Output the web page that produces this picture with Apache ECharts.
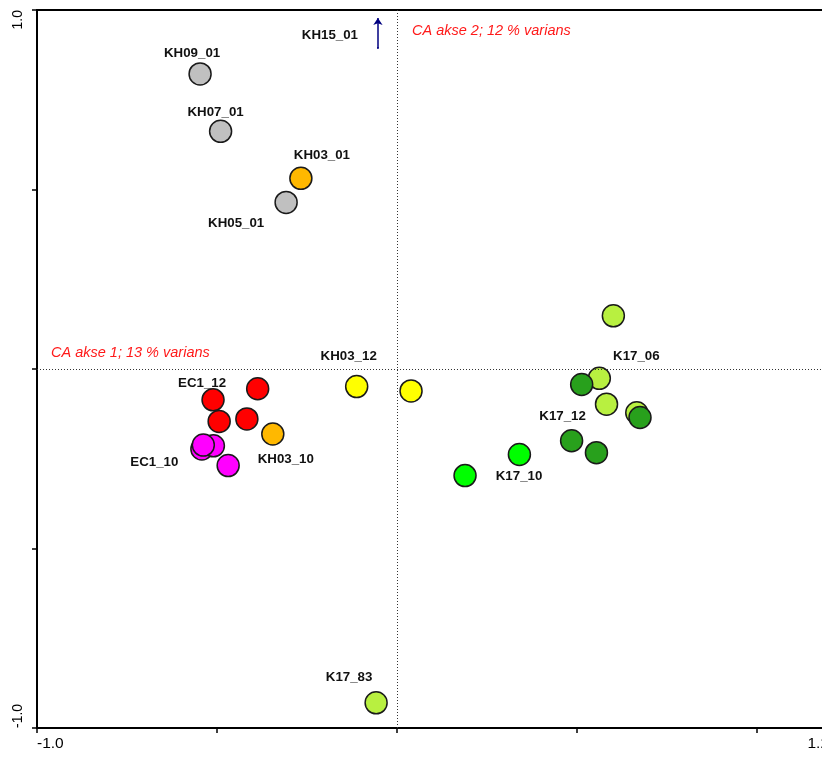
<!DOCTYPE html>
<html>
<head>
<meta charset="utf-8">
<script src="https://cdn.jsdelivr.net/npm/echarts@6/dist/echarts.min.js"></script>
<style>html,body{margin:0;padding:0;background:#fff;}#c{width:822px;height:758px;}</style>
</head>
<body>
<div id="c"></div>
<script>
// ---- data (CA scores) ----
const greyPts = [[-0.547, 0.822], [-0.490, 0.662], [-0.308, 0.464]];
const greyNames = ['KH09_01', 'KH07_01', 'KH05_01'];
const orangePts = [[-0.267, 0.531], [-0.345, -0.181]];
const orangeNames = ['KH03_01', 'KH03_10'];
const redPts = [[-0.387, -0.055], [-0.511, -0.086], [-0.494, -0.146], [-0.417, -0.139]];
const redNames = ['', 'EC1_12', '', ''];
const magentaPts = [[-0.542, -0.223], [-0.510, -0.214], [-0.538, -0.212], [-0.469, -0.269]];
const magentaNames = ['', '', 'EC1_10', ''];
const yellowPts = [[-0.112, -0.049], [0.039, -0.061]];
const yellowNames = ['KH03_12', ''];
const lightGreenPts = [[0.601, 0.148], [0.562, -0.026], [0.582, -0.098], [0.666, -0.122], [-0.058, -0.930]];
const lightGreenNames = ['', 'K17_06', '', '', 'K17_83'];
const greenPts = [[0.340, -0.238], [0.189, -0.297]];
const greenNames = ['', 'K17_10'];
const darkGreenPts = [[0.513, -0.043], [0.675, -0.135], [0.485, -0.200], [0.554, -0.233]];
const darkGreenNames = ['', '', 'K17_12', ''];
const arrowFrom = [-0.053, 0.894];
const arrowTo = [-0.053, 0.978];
const arrowName = 'KH15_01';
const xTickLabels = [-1.0, 1.2];
const yTickLabels = [-1.0, 1.0];
const axis1Text = 'CA akse 1; 13 % varians';
const axis2Text = 'CA akse 2; 12 % varians';

// ---- styles ----
const labelOffsets = {
  'KH09_01': [-8, -21], 'KH07_01': [-5, -19], 'KH03_01': [21, -23], 'KH05_01': [-50, 21],
  'EC1_12': [-11, -17], 'EC1_10': [-49, 17], 'KH03_10': [13, 25], 'KH03_12': [-8, -30],
  'K17_06': [37, -22], 'K17_12': [-9, -24], 'K17_10': [54, 1], 'K17_83': [-27, -26],
  'KH15_01': [-48, -13]
};
const FONT = '"Liberation Sans", Arial, sans-serif';
const labelStyle = { fontFamily: FONT, fontWeight: 'bold', fontSize: 13.3, color: '#111',
                     textBorderWidth: 0, textBorderColor: 'transparent', opacity: 1 };

function pts(points, names) {
  return points.map((p, i) => {
    const n = names[i];
    const d = { value: p, name: n };
    if (n) {
      d.label = Object.assign({ show: true, position: 'inside', formatter: n, offset: labelOffsets[n] }, labelStyle);
    }
    return d;
  });
}
function sc(points, names, color) {
  return {
    type: 'scatter', symbol: 'circle', symbolSize: 22,
    itemStyle: { color: color, borderColor: '#1a1a1a', borderWidth: 1.5, opacity: 1 },
    data: pts(points, names), silent: true
  };
}

const axisCommon = {
  axisLine: { show: true, onZero: false, lineStyle: { color: '#000', width: 2 } },
  axisTick: { show: true, length: 5, lineStyle: { color: '#000', width: 1.5 } },
  splitLine: { show: false }
};

const chart = echarts.init(document.getElementById('c'), null, { renderer: 'canvas' });
chart.setOption({
  animation: false,
  grid: { left: 37, top: 10, right: -7, bottom: 30, outerBoundsMode: 'none', containLabel: false,
          show: true, borderColor: '#000', borderWidth: 2 },
  xAxis: Object.assign({
    type: 'value', min: -1.0, max: 1.2, interval: 0.5,
    axisLabel: {
      margin: 8, fontFamily: FONT, fontSize: 15.5, color: '#000',
      formatter: v => xTickLabels.some(t => Math.abs(t - v) < 1e-9) ? v.toFixed(1) : '',
      alignMinLabel: 'left', alignMaxLabel: 'right'
    }
  }, axisCommon),
  yAxis: Object.assign({
    type: 'value', min: -1.0, max: 1.0, interval: 0.5,
    axisLabel: {
      rotate: 90, margin: 12, fontFamily: FONT, fontSize: 14, color: '#000',
      formatter: v => yTickLabels.some(t => Math.abs(t - v) < 1e-9) ? v.toFixed(1) : '',
      alignMinLabel: 'left', alignMaxLabel: 'right'
    }
  }, axisCommon),
  graphic: [
    { type: 'text', left: 412, top: 23, style: { text: axis2Text, fontFamily: FONT, fontStyle: 'italic', fontSize: 14.5, fill: '#ff1a1a' } },
    { type: 'text', left: 51, top: 345, style: { text: axis1Text, fontFamily: FONT, fontStyle: 'italic', fontSize: 14.5, fill: '#ff1a1a' } }
  ],
  series: [
    {
      type: 'scatter', symbolSize: 0, data: [], silent: true,
      markLine: {
        silent: true, symbol: 'none', animation: false,
        label: { show: false },
        lineStyle: { color: '#333', type: [1, 2], width: 1 },
        data: [{ xAxis: 0 }, { yAxis: 0 }]
      }
    },
    {
      type: 'lines', coordinateSystem: 'cartesian2d', silent: true,
      symbol: ['none', 'arrow'], symbolSize: [0, 7],
      lineStyle: { color: '#000080', width: 1.5, opacity: 1 },
      data: [{ coords: [arrowFrom, arrowTo] }]
    },
    {
      type: 'scatter', symbol: 'circle', symbolSize: 2, itemStyle: { color: '#000080', opacity: 1 }, silent: true,
      data: [{ value: arrowFrom, name: arrowName,
        label: Object.assign({ show: true, position: 'top', distance: 5, formatter: arrowName, offset: [-48, 0] }, labelStyle) }]
    },
    sc(greyPts, greyNames, '#c0c0c0'),
    sc(orangePts, orangeNames, '#ffb800'),
    sc(redPts, redNames, '#ff0000'),
    sc(magentaPts, magentaNames, '#ff00ff'),
    sc(yellowPts, yellowNames, '#ffff00'),
    sc(lightGreenPts, lightGreenNames, '#b8f040'),
    sc(greenPts, greenNames, '#00ff00'),
    sc(darkGreenPts, darkGreenNames, '#28a01c')
  ]
});
</script>
</body>
</html>
